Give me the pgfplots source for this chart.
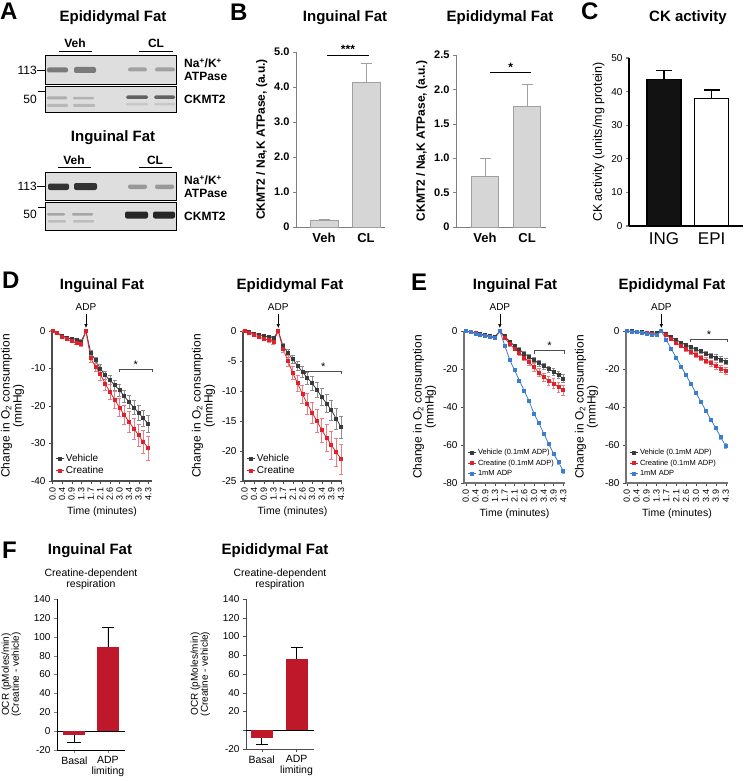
\documentclass[border=0pt]{standalone}
\usepackage{fontspec}
\setmainfont{Liberation Sans}
\usepackage{pgfplots}
\usepackage{pgfplotstable}
\pgfplotsset{compat=1.18}
\usetikzlibrary{arrows.meta}
\definecolor{vehc}{HTML}{3A3A3A}
\definecolor{vehe}{HTML}{8C8C8C}
\definecolor{crec}{HTML}{E0202A}
\definecolor{cree}{HTML}{EE7C80}
\definecolor{bluc}{HTML}{3C7DD0}
\definecolor{blue}{HTML}{7FAEE6}
\definecolor{barg}{HTML}{D6D6D6}
\definecolor{barge}{HTML}{A0A0A0}
\definecolor{fred}{HTML}{C0182B}
\definecolor{blotbg}{HTML}{DEDEDE}
\newcommand{\fs}[1]{\fontsize{#1}{#1}\selectfont}
\pgfplotsset{
  panel/.style={scale only axis, anchor=north west, clip=false,
    axis lines*=left, enlargelimits=false,
    /pgf/number format/assume math mode=true,
    tick align=outside, major tick length=3pt,
    tick label style={font=\fs{10}},
    every axis label/.append style={font=\fs{12}},
  },
  oxy/.style={panel, xtick={0,2,...,20},
    xticklabels={0.0,0.4,0.9,1.3,1.7,2.1,2.6,3.0,3.4,3.9,4.3},
    xticklabel style={rotate=90, anchor=east, font=\fs{9}},
    xlabel={Time (minutes)}, xlabel style={font=\fs{10.5}},
    ylabel={Change in O\textsubscript{2} consumption\\(mmHg)},
    ylabel style={align=center, font=\fs{12}},
    axis line style={line width=1.1pt, black!70},
    tick style={black!70},
    legend cell align=left,
    legend style={at={(0.02,0.02)}, anchor=south west, draw=none, fill=none, inner sep=1pt, row sep=-1pt},
    legend image code/.code={\draw[mark repeat=2, mark phase=2, ##1] plot coordinates {(0pt,0pt) (4pt,0pt) (8pt,0pt)};},
  },
  ser/.style n args={3}{#1, line width=0.8pt, mark=square*, mark size=1.5pt, mark options={fill=#1, draw=#1}, error bars/.cd, y dir=both, y explicit, error bar style={#2, line width=0.6pt}, error mark options={rotate=90, #2, mark size=#3, line width=0.6pt}},
}

\pgfplotstableread{
x v ve c ce
0 0 0.1 0 0.1
1 -0.5 0.2 -0.6 0.2
2 -1.2 0.3 -1.5 0.3
3 -1.8 0.35 -2.2 0.35
4 -2.2 0.4 -2.7 0.4
5 -2.5 0.45 -3.1 0.45
6 -2.8 0.5 -3.5 0.5
7 0 0.3 0 0.3
8 -5.8 0.6 -7.3 1.0
9 -7.8 0.8 -9.5 1.3
10 -10.0 1.0 -11.5 1.6
11 -11.8 1.1 -14.0 1.8
12 -13.1 1.2 -16.2 2.0
13 -14.4 1.3 -18.3 2.2
14 -15.8 1.5 -20.4 2.4
15 -17.4 1.6 -22.4 2.5
16 -18.9 1.8 -24.2 2.7
17 -20.4 1.9 -26.0 2.8
18 -21.8 2.0 -27.8 2.9
19 -23.3 2.1 -29.6 3.1
20 -24.7 2.2 -31.2 3.2
}\DIng
\pgfplotstableread{
x v ve c ce
0 0 0.05 0 0.05
1 -0.2 0.1 -0.3 0.1
2 -0.4 0.15 -0.7 0.15
3 -0.6 0.2 -1.0 0.2
4 -0.8 0.2 -1.3 0.25
5 -1.0 0.25 -1.5 0.3
6 -1.2 0.3 -1.8 0.35
7 0 0.2 0 0.2
8 -2.5 0.4 -3.0 0.6
9 -3.7 0.6 -5.0 0.9
10 -4.7 0.7 -7.0 1.1
11 -5.8 0.8 -8.7 1.3
12 -6.8 0.9 -10.5 1.5
13 -7.8 1.0 -12.1 1.7
14 -8.7 1.1 -13.6 1.8
15 -9.8 1.3 -15.0 1.9
16 -11.0 1.4 -16.5 2.0
17 -12.1 1.5 -17.8 2.2
18 -13.2 1.6 -19.0 2.3
19 -14.6 1.7 -20.2 2.4
20 -16.0 1.8 -21.3 2.5
}\DEpi
\pgfplotstableread{
x v ve c ce b be
0 0 0.1 0 0.1 0 0.1
1 -0.5 0.2 -0.6 0.2 -0.6 0.2
2 -1.0 0.3 -1.2 0.3 -1.3 0.3
3 -1.5 0.35 -1.8 0.35 -2.0 0.3
4 -2.0 0.4 -2.4 0.4 -2.6 0.3
5 -2.5 0.45 -3.0 0.45 -3.2 0.3
6 -3.0 0.5 -3.5 0.5 -3.8 0.4
7 0 0.3 0 0.3 0 0.3
8 -2.8 0.6 -3.5 0.7 -7.6 0.4
9 -5.5 0.8 -7.0 1.0 -15.0 0.5
10 -7.8 0.9 -9.2 1.2 -20.6 0.5
11 -9.8 1.0 -11.5 1.4 -26.0 0.6
12 -11.8 1.1 -13.9 1.6 -31.5 0.6
13 -13.6 1.2 -16.5 1.8 -37.0 0.7
14 -15.3 1.3 -19.1 2.0 -43.5 0.7
15 -17.0 1.4 -21.8 2.1 -48.5 0.8
16 -18.5 1.5 -24.4 2.2 -54.0 0.8
17 -20.0 1.6 -26.0 2.4 -59.3 0.9
18 -21.5 1.7 -27.6 2.5 -64.5 0.9
19 -23.2 1.9 -29.5 2.7 -69.0 1.0
20 -25.0 2.0 -31.2 2.8 -73.7 1.0
}\EIng
\pgfplotstableread{
x v ve c ce b be
0 0 0.1 0 0.1 0 0.1
1 -0.2 0.1 -0.3 0.1 -0.3 0.1
2 -0.4 0.15 -0.6 0.15 -0.6 0.15
3 -0.6 0.2 -0.9 0.2 -1.0 0.2
4 -0.8 0.25 -1.2 0.25 -1.4 0.2
5 -1.0 0.3 -1.5 0.3 -1.8 0.2
6 -1.2 0.3 -1.8 0.3 -2.2 0.3
7 0 0.2 0 0.2 0 0.2
8 -1.6 0.4 -2.1 0.5 -4.7 0.3
9 -3.2 0.5 -4.1 0.7 -9.4 0.4
10 -4.7 0.6 -6.1 0.8 -14.0 0.4
11 -6.1 0.7 -7.9 0.9 -18.7 0.5
12 -7.4 0.8 -9.6 1.0 -23.3 0.5
13 -8.5 0.9 -11.1 1.1 -28.0 0.6
14 -9.6 1.0 -12.6 1.2 -32.6 0.6
15 -10.7 1.1 -14.1 1.3 -37.3 0.7
16 -11.8 1.2 -15.6 1.5 -42.0 0.7
17 -12.9 1.3 -17.0 1.6 -46.6 0.8
18 -13.9 1.4 -18.4 1.7 -51.2 0.8
19 -15.0 1.5 -19.7 1.8 -55.9 0.9
20 -16.1 1.6 -21.0 1.9 -60.5 1.2
}\EEpi

\begin{document}
\begin{tikzpicture}[x=1pt,y=1pt]
\path[use as bounding box] (0,0) rectangle (744,-781);

% ---------------- Panel A: blots ----------------
\begin{axis}[scale only axis, anchor=north west, at={(45pt,-55pt)}, width=131pt, height=175pt,
  xmin=45, xmax=176, ymin=-230, ymax=-55, axis lines=none, clip=false]
\addplot[fill=blotbg, draw=black, line width=0.8pt] coordinates {(45,-55) (176,-55) (176,-84) (45,-84)} -- cycle;
\addplot[fill=blotbg, draw=black, line width=0.8pt] coordinates {(45,-86) (176,-86) (176,-112) (45,-112)} -- cycle;
\addplot[fill=blotbg, draw=black, line width=0.8pt] coordinates {(45,-172) (176,-172) (176,-200) (45,-200)} -- cycle;
\addplot[fill=blotbg, draw=black, line width=0.8pt] coordinates {(45,-202) (176,-202) (176,-230) (45,-230)} -- cycle;
% Epididymal Na/K
\addplot[draw=none, fill=black!52, rounded corners=2pt] coordinates {(47,-67.5) (68,-67.5) (68,-72.5) (47,-72.5)} -- cycle;
\addplot[draw=none, fill=black!52, rounded corners=2pt] coordinates {(74,-67) (96,-67) (96,-73) (74,-73)} -- cycle;
\addplot[draw=none, fill=black!37, rounded corners=2pt] coordinates {(128,-67.5) (147,-67.5) (147,-71.5) (128,-71.5)} -- cycle;
\addplot[draw=none, fill=black!37, rounded corners=2pt] coordinates {(155,-67.5) (175,-67.5) (175,-71.5) (155,-71.5)} -- cycle;
% Epididymal CKMT2
\addplot[draw=none, fill=black!32, rounded corners=1pt] coordinates {(47,-96.5) (67,-96.5) (67,-99.5) (47,-99.5)} -- cycle;
\addplot[draw=none, fill=black!30, rounded corners=1pt] coordinates {(73,-97) (94,-97) (94,-99.5) (73,-99.5)} -- cycle;
\addplot[draw=none, fill=black!28, rounded corners=1pt] coordinates {(47,-104) (68,-104) (68,-107) (47,-107)} -- cycle;
\addplot[draw=none, fill=black!28, rounded corners=1pt] coordinates {(73,-104) (95,-104) (95,-107) (73,-107)} -- cycle;
\addplot[draw=none, fill=black!62, rounded corners=1.5pt] coordinates {(126,-95.5) (148,-95.5) (148,-99) (126,-99)} -- cycle;
\addplot[draw=none, fill=black!62, rounded corners=1.5pt] coordinates {(154,-95.5) (175,-95.5) (175,-99) (154,-99)} -- cycle;
\addplot[draw=none, fill=black!22, rounded corners=1pt] coordinates {(126,-103) (148,-103) (148,-105.5) (126,-105.5)} -- cycle;
\addplot[draw=none, fill=black!22, rounded corners=1pt] coordinates {(154,-103) (175,-103) (175,-105.5) (154,-105.5)} -- cycle;
% Inguinal Na/K
\addplot[draw=none, fill=black!80, rounded corners=2pt] coordinates {(48,-183.5) (69,-183.5) (69,-190) (48,-190)} -- cycle;
\addplot[draw=none, fill=black!80, rounded corners=2pt] coordinates {(74,-183) (97,-183) (97,-190) (74,-190)} -- cycle;
\addplot[draw=none, fill=black!40, rounded corners=2pt] coordinates {(128,-184.5) (147,-184.5) (147,-189) (128,-189)} -- cycle;
\addplot[draw=none, fill=black!40, rounded corners=2pt] coordinates {(155,-184.5) (174,-184.5) (174,-189) (155,-189)} -- cycle;
% Inguinal CKMT2
\addplot[draw=none, fill=black!35, rounded corners=1pt] coordinates {(47,-213) (65,-213) (65,-215.5) (47,-215.5)} -- cycle;
\addplot[draw=none, fill=black!35, rounded corners=1pt] coordinates {(72,-213) (93,-213) (93,-215.5) (72,-215.5)} -- cycle;
\addplot[draw=none, fill=black!26, rounded corners=1pt] coordinates {(48,-220) (66,-220) (66,-222.5) (48,-222.5)} -- cycle;
\addplot[draw=none, fill=black!26, rounded corners=1pt] coordinates {(73,-220) (94,-220) (94,-222.5) (73,-222.5)} -- cycle;
\addplot[draw=none, fill=black!85, rounded corners=2pt] coordinates {(125,-211.5) (148,-211.5) (148,-218.5) (125,-218.5)} -- cycle;
\addplot[draw=none, fill=black!85, rounded corners=2pt] coordinates {(153,-211.5) (175,-211.5) (175,-218.5) (153,-218.5)} -- cycle;
\end{axis}
\node[anchor=north west, font=\fs{24}\bfseries, inner sep=0] at (0,-3) {A};
\node[font=\fs{15}\bfseries] at (113,-18) {Epididymal Fat};
\node[font=\fs{12}\bfseries] at (75,-43) {Veh};
\node[font=\fs{12}\bfseries] at (156,-43) {CL};
\draw[line width=0.8pt] (59,-51) -- (92,-51) (139,-51) -- (173,-51);
\node[anchor=west, align=left, font=\fs{12}\bfseries, inner sep=0] at (184,-70) {Na\textsuperscript{+}/K\textsuperscript{+}\\[1pt]ATPase};
\node[anchor=west, font=\fs{12}\bfseries, inner sep=0] at (184,-99) {CKMT2};
\node[anchor=east, font=\fs{12}, inner sep=0] at (37,-70) {113};
\node[anchor=east, font=\fs{12}, inner sep=0] at (37,-99) {50};
\draw[line width=0.7pt] (37,-70) -- (45,-70) (38,-91) -- (45,-91);
\node[font=\fs{15}\bfseries] at (113,-138) {Inguinal Fat};
\node[font=\fs{12}\bfseries] at (74,-160) {Veh};
\node[font=\fs{12}\bfseries] at (155,-160) {CL};
\draw[line width=0.8pt] (58,-167) -- (91,-167) (139,-167) -- (172,-167);
\node[anchor=west, align=left, font=\fs{12}\bfseries, inner sep=0] at (184,-187) {Na\textsuperscript{+}/K\textsuperscript{+}\\[1pt]ATPase};
\node[anchor=west, font=\fs{12}\bfseries, inner sep=0] at (184,-216) {CKMT2};
\node[anchor=east, font=\fs{12}, inner sep=0] at (37,-186) {113};
\node[anchor=east, font=\fs{12}, inner sep=0] at (37,-214) {50};
\draw[line width=0.7pt] (37,-186) -- (45,-186) (38,-207) -- (45,-207);

% ---------------- Panel B ----------------
\node[anchor=north west, font=\fs{24}\bfseries, inner sep=0] at (230,-4) {B};
\node[font=\fs{15}\bfseries] at (345,-18) {Inguinal Fat};
\node[font=\fs{15}\bfseries] at (500,-18) {Epididymal Fat};
\begin{axis}[panel, at={(296pt,-52pt)}, width=89pt, height=175pt,
  xmin=-0.667, xmax=1.452, ymin=0, ymax=5,
  ytick={0,1,2,3,4,5}, yticklabels={0,1.0,2.0,3.0,4.0,5.0},
  xtick={0,1}, xticklabels={Veh,CL}, xtick style={draw=none},
  yticklabel style={font=\fs{11}\bfseries}, xticklabel style={font=\fs{13}\bfseries},
  axis line style={black!50, line width=0.8pt}, ytick style={black!50},
  ylabel={CKMT2 / Na,K ATPase, (a.u.)}, ylabel style={font=\fs{12}\bfseries}]
\addplot[ybar, bar shift=0pt, bar width=28pt, fill=barg, draw=barge, line width=0.7pt,
  error bars/.cd, y dir=plus, y explicit, error bar style={barge, line width=0.8pt},
  error mark options={rotate=90, barge, mark size=5.5pt, line width=0.8pt}]
  coordinates {(0,0.2) +- (0,0.02) (1,4.12) +- (0,0.56)};
\draw[line width=0.8pt] (axis cs:0.07,4.91) -- (axis cs:1.07,4.91);
\node[above, font=\fs{12}\bfseries, inner sep=1pt] at (axis cs:0.57,4.91) {***};
\end{axis}
\begin{axis}[panel, at={(456pt,-55pt)}, width=90pt, height=172pt,
  xmin=-0.69, xmax=1.45, ymin=0, ymax=2.5,
  ytick={0,0.5,1,1.5,2,2.5}, yticklabels={0,0.5,1.0,1.5,2.0,2.5},
  xtick={0,1}, xticklabels={Veh,CL}, xtick style={draw=none},
  yticklabel style={font=\fs{11}\bfseries}, xticklabel style={font=\fs{13}\bfseries},
  axis line style={black!50, line width=0.8pt}, ytick style={black!50},
  ylabel={CKMT2 / Na,K ATPase, (a.u.)}, ylabel style={font=\fs{12}\bfseries}]
\addplot[ybar, bar shift=0pt, bar width=27pt, fill=barg, draw=barge, line width=0.7pt,
  error bars/.cd, y dir=plus, y explicit, error bar style={barge, line width=0.8pt},
  error mark options={rotate=90, barge, mark size=5.5pt, line width=0.8pt}]
  coordinates {(0,0.74) +- (0,0.25) (1,1.75) +- (0,0.32)};
\draw[line width=0.8pt] (axis cs:0.12,2.24) -- (axis cs:1.1,2.24);
\node[above, font=\fs{12}\bfseries, inner sep=1pt] at (axis cs:0.61,2.24) {*};
\end{axis}

% ---------------- Panel C ----------------
\node[anchor=north west, font=\fs{24}\bfseries, inner sep=0] at (581,-3) {C};
\node[font=\fs{15}\bfseries] at (688,-18) {CK activity};
\begin{axis}[panel, at={(629pt,-58pt)}, width=114pt, height=168pt,
  xmin=-0.737, xmax=1.66, ymin=0, ymax=50, ytick={0,10,...,50},
  xtick={0,1}, xticklabels={ING,EPI}, xtick style={draw=none},
  xticklabel style={font=\fs{17}},
  axis line style={line width=1.3pt}, ytick style={line width=1.1pt},
  ylabel={CK activity (units/mg protein)}, ylabel style={font=\fs{12.5}}]
\addplot[ybar, bar shift=0pt, bar width=34pt, fill=black!93, draw=black, line width=1.3pt,
  error bars/.cd, y dir=plus, y explicit, error bar style={line width=1.3pt},
  error mark options={rotate=90, mark size=8pt, line width=1.3pt}]
  coordinates {(0,43.5) +- (0,2.8)};
\addplot[ybar, bar shift=0pt, bar width=34pt, fill=white, draw=black, line width=1.3pt,
  error bars/.cd, y dir=plus, y explicit, error bar style={line width=1.3pt},
  error mark options={rotate=90, mark size=8pt, line width=1.3pt}]
  coordinates {(1,38) +- (0,2.5)};
\end{axis}

% ---------------- Panel D ----------------
\node[anchor=north west, font=\fs{24}\bfseries, inner sep=0] at (2,-272) {D};
\node[font=\fs{15}\bfseries] at (102,-286) {Inguinal Fat};
\node[font=\fs{15}\bfseries] at (290,-286) {Epididymal Fat};
\begin{axis}[oxy, at={(52pt,-331pt)}, width=100pt, height=150pt,
  xmin=-0.1, xmax=20.8, ymin=-40, ymax=0, ytick={-40,-30,...,0},
  legend style={font=\fs{10}}]
\addplot[ser={vehc}{vehe}{2pt}] table[x=x, y=v, y error=ve] {\DIng};
\addlegendentry{Vehicle}
\addplot[ser={crec}{cree}{2pt}] table[x=x, y=c, y error=ce] {\DIng};
\addlegendentry{Creatine}
\draw[-{Latex[length=4pt,width=3.5pt]}, line width=0.6pt] ([yshift=17pt]axis cs:7,0) -- ([yshift=3pt]axis cs:7,0);
\node[font=\fs{10}] at ([yshift=24pt]axis cs:7,0) {ADP};
\draw[black!70, line width=0.6pt] ([yshift=-3pt]axis cs:14,-10.2) -- (axis cs:14,-10.2) -- (axis cs:20.8,-10.2) -- ([yshift=-3pt]axis cs:20.8,-10.2);
\node[above, font=\fs{11}, inner sep=1pt] at (axis cs:17.4,-10.2) {*};
\end{axis}
\begin{axis}[oxy, at={(243pt,-331pt)}, width=99pt, height=150pt,
  xmin=-0.3, xmax=20.2, ymin=-25, ymax=0, ytick={-25,-20,...,0},
  legend style={font=\fs{10}}]
\addplot[ser={vehc}{vehe}{2pt}] table[x=x, y=v, y error=ve] {\DEpi};
\addlegendentry{Vehicle}
\addplot[ser={crec}{cree}{2pt}] table[x=x, y=c, y error=ce] {\DEpi};
\addlegendentry{Creatine}
\draw[-{Latex[length=4pt,width=3.5pt]}, line width=0.6pt] ([yshift=17pt]axis cs:7,0) -- ([yshift=3pt]axis cs:7,0);
\node[font=\fs{10}] at ([yshift=24pt]axis cs:7,0) {ADP};
\draw[black!70, line width=0.6pt] ([yshift=-3pt]axis cs:12.6,-6.7) -- (axis cs:12.6,-6.7) -- (axis cs:20,-6.7) -- ([yshift=-3pt]axis cs:20,-6.7);
\node[above, font=\fs{11}, inner sep=1pt] at (axis cs:16.3,-6.7) {*};
\end{axis}

% ---------------- Panel E ----------------
\node[anchor=north west, font=\fs{24}\bfseries, inner sep=0] at (411,-274) {E};
\node[font=\fs{15}\bfseries] at (515,-286) {Inguinal Fat};
\node[font=\fs{15}\bfseries] at (672,-286) {Epididymal Fat};
\begin{axis}[oxy, at={(464pt,-331pt)}, width=101pt, height=152pt,
  xmin=-0.35, xmax=20.35, ymin=-80, ymax=0, ytick={-80,-60,...,0},
  axis line style={line width=1.4pt, black!55},
  legend style={font=\fs{7.5}, row sep=-0.5pt}]
\addplot[ser={vehc}{vehe}{1.8pt}] table[x=x, y=v, y error=ve] {\EIng};
\addlegendentry{Vehicle (0.1mM ADP)}
\addplot[ser={crec}{cree}{1.8pt}] table[x=x, y=c, y error=ce] {\EIng};
\addlegendentry{Creatine (0.1mM ADP)}
\addplot[ser={bluc}{blue}{1.5pt}] table[x=x, y=b, y error=be] {\EIng};
\addlegendentry{1mM ADP}
\draw[-{Latex[length=4pt,width=3.5pt]}, line width=0.6pt] ([yshift=17pt]axis cs:7,0) -- ([yshift=3pt]axis cs:7,0);
\node[font=\fs{10}] at ([yshift=24pt]axis cs:7,0) {ADP};
\draw[black!70, line width=0.6pt] ([yshift=-3pt]axis cs:14,-10.4) -- (axis cs:14,-10.4) -- (axis cs:20.3,-10.4) -- ([yshift=-3pt]axis cs:20.3,-10.4);
\node[above, font=\fs{11}, inner sep=1pt] at (axis cs:17.2,-10.4) {*};
\end{axis}
\begin{axis}[oxy, at={(626pt,-331pt)}, width=102pt, height=152pt,
  xmin=-0.14, xmax=20.46, ymin=-80, ymax=0, ytick={-80,-60,...,0},
  axis line style={line width=1.4pt, black!55},
  legend style={font=\fs{7.5}, row sep=-0.5pt}]
\addplot[ser={vehc}{vehe}{1.8pt}] table[x=x, y=v, y error=ve] {\EEpi};
\addlegendentry{Vehicle (0.1mM ADP)}
\addplot[ser={crec}{cree}{1.8pt}] table[x=x, y=c, y error=ce] {\EEpi};
\addlegendentry{Creatine (0.1mM ADP)}
\addplot[ser={bluc}{blue}{1.5pt}] table[x=x, y=b, y error=be] {\EEpi};
\addlegendentry{1mM ADP}
\draw[-{Latex[length=4pt,width=3.5pt]}, line width=0.6pt] ([yshift=17pt]axis cs:7,0) -- ([yshift=3pt]axis cs:7,0);
\node[font=\fs{10}] at ([yshift=24pt]axis cs:7,0) {ADP};
\draw[black!70, line width=0.6pt] ([yshift=-3pt]axis cs:12.9,-4.4) -- (axis cs:12.9,-4.4) -- (axis cs:20.4,-4.4) -- ([yshift=-3pt]axis cs:20.4,-4.4);
\node[above, font=\fs{11}, inner sep=1pt] at (axis cs:16.6,-4.4) {*};
\end{axis}

% ---------------- Panel F ----------------
\node[anchor=north west, font=\fs{24}\bfseries, inner sep=0] at (2,-542) {F};
\node[font=\fs{15}\bfseries] at (90,-551) {Inguinal Fat};
\node[font=\fs{15}\bfseries] at (275,-551) {Epididymal Fat};
\begin{axis}[panel, at={(57pt,-599pt)}, width=68pt, height=151pt,
  xmin=-0.52, xmax=1.51, ymin=-20, ymax=140,
  ytick={-20,20,40,60,80,100,120,140},
  extra y ticks={0}, extra y tick labels={0},
  extra y tick style={grid=major, major grid style={black, line width=0.8pt}},
  xtick={0,1}, xticklabels={Basal,{ADP\\limiting}},
  xticklabel style={align=center, font=\fs{10.5}},
  axis line style={line width=0.8pt},
  ylabel={OCR (pMoles/min)\\(Creatine - vehicle)}, ylabel style={align=center, font=\fs{10}},
  title={Creatine-dependent\\respiration}, title style={align=center, font=\fs{10.5}}]
\addplot[ybar, bar shift=0pt, bar width=22pt, fill=fred, draw=none,
  error bars/.cd, y dir=minus, y explicit, error bar style={black, line width=0.8pt},
  error mark options={rotate=90, black, mark size=7pt, line width=0.8pt}]
  coordinates {(0,-4) +- (0,8)};
\addplot[ybar, bar shift=0pt, bar width=22pt, fill=fred, draw=none,
  error bars/.cd, y dir=plus, y explicit, error bar style={black, line width=0.8pt},
  error mark options={rotate=90, black, mark size=6pt, line width=0.8pt}]
  coordinates {(1,89) +- (0,21)};
\end{axis}
\begin{axis}[panel, at={(246pt,-599pt)}, width=68pt, height=150pt,
  xmin=-0.45, xmax=1.5, ymin=-20, ymax=140,
  ytick={-20,20,40,60,80,100,120,140},
  extra y ticks={0}, extra y tick labels={},
  extra y tick style={grid=major, major grid style={black, line width=0.8pt}},
  xtick={0,1}, xticklabels={Basal,{ADP\\limiting}},
  xticklabel style={align=center, font=\fs{10.5}},
  axis line style={line width=0.8pt, black!70}, tick style={black!70},
  ylabel={OCR (pMoles/min)\\(Creatine - vehicle)}, ylabel style={align=center, font=\fs{10}},
  title={Creatine-dependent\\respiration}, title style={align=center, font=\fs{10.5}}]
\addplot[ybar, bar shift=0pt, bar width=22pt, fill=fred, draw=none,
  error bars/.cd, y dir=minus, y explicit, error bar style={black, line width=0.8pt},
  error mark options={rotate=90, black, mark size=6pt, line width=0.8pt}]
  coordinates {(0,-8.5) +- (0,6.5)};
\addplot[ybar, bar shift=0pt, bar width=22pt, fill=fred, draw=none,
  error bars/.cd, y dir=plus, y explicit, error bar style={black, line width=0.8pt},
  error mark options={rotate=90, black, mark size=6pt, line width=0.8pt}]
  coordinates {(1,76) +- (0,12)};
\end{axis}
\end{tikzpicture}
\end{document}
